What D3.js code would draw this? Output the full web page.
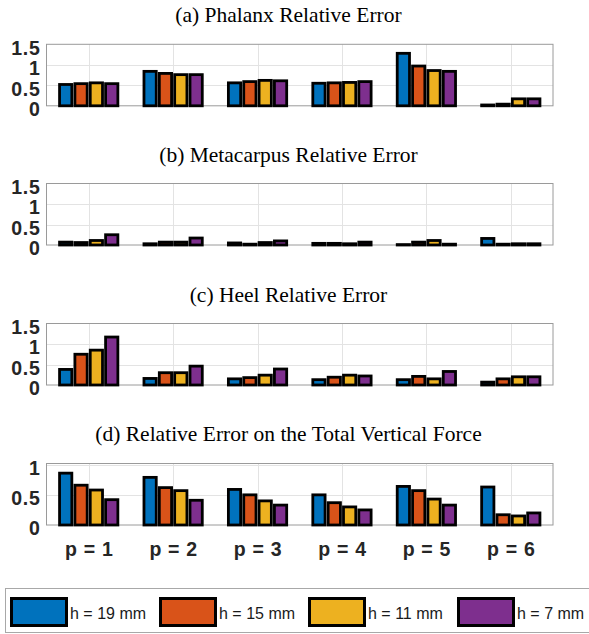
<!DOCTYPE html>
<html>
<head>
<meta charset="utf-8">
<script src="https://cdn.jsdelivr.net/npm/d3@7"></script>
<style>
  html, body { margin: 0; padding: 0; background: #fff; }
  svg { display: block; }
</style>
</head>
<body>
<svg id="chart" width="589" height="634"></svg>
<script>
// ---------------- DATA ----------------
const categories = ["p = 1", "p = 2", "p = 3", "p = 4", "p = 5", "p = 6"];
const seriesNames = ["h = 19 mm", "h = 15 mm", "h = 11 mm", "h = 7 mm"];
const seriesColors = ["#0072BD", "#D95319", "#EDB120", "#7E2F8E"];

const panelTitles = [
  "(a) Phalanx Relative Error",
  "(b) Metacarpus Relative Error",
  "(c) Heel Relative Error",
  "(d) Relative Error on the Total Vertical Force"
];

// each: [h19, h15, h11, h7] over p = 1..6
const phalanxErr = [
  [0.52, 0.84, 0.56, 0.55, 1.28, 0.02],
  [0.54, 0.79, 0.59, 0.56, 0.97, 0.04],
  [0.56, 0.76, 0.62, 0.57, 0.86, 0.17],
  [0.54, 0.76, 0.61, 0.59, 0.84, 0.17]
];
const metacarpusErr = [
  [0.07, 0.03, 0.05, 0.04, 0.01, 0.16],
  [0.06, 0.07, 0.02, 0.04, 0.07, 0.02],
  [0.11, 0.07, 0.06, 0.03, 0.11, 0.03],
  [0.25, 0.17, 0.10, 0.07, 0.02, 0.03]
];
const heelErr = [
  [0.38, 0.16, 0.15, 0.13, 0.13, 0.07],
  [0.75, 0.30, 0.18, 0.19, 0.21, 0.15],
  [0.85, 0.30, 0.24, 0.24, 0.15, 0.20],
  [1.17, 0.46, 0.39, 0.22, 0.33, 0.20]
];
const totalForceErr = [
  [0.86, 0.79, 0.59, 0.50, 0.64, 0.63],
  [0.66, 0.62, 0.50, 0.37, 0.57, 0.17],
  [0.58, 0.57, 0.40, 0.30, 0.43, 0.15],
  [0.42, 0.41, 0.33, 0.25, 0.33, 0.20]
];
const panelData = [phalanxErr, metacarpusErr, heelErr, totalForceErr];

const yTicksABC = [0, 0.5, 1, 1.5];
const yTicksD = [0, 0.5, 1];
const panelYMax = [1.5, 1.5, 1.5, 1.02];
const panelYTicks = [yTicksABC, yTicksABC, yTicksABC, yTicksD];

// ---------------- LAYOUT ----------------
const svg = d3.select("#chart");
const axLeft = 46.5, axRight = 553;
const panelTops = [44.3, 183.5, 323.5, 463.5];
const panelH = 61.5;
const titleBaselines = [21.7, 161.7, 301.7, 440.7];
const titleX = 288.5;

const x = d3.scaleLinear().domain([0.5, 6.5]).range([axLeft, axRight]);
const groupW = 0.727;             // MATLAB grouped bar width (units)
const step = groupW / 4;           // per series spacing
const barW = step * 0.8;           // bar width (units)
const px = x(1) - x(0);

const tickFont = "'Liberation Sans', Arial, Helvetica, sans-serif";

panelData.forEach((data, pi) => {
  const top = panelTops[pi], bottom = top + panelH;
  const y = d3.scaleLinear().domain([0, panelYMax[pi]]).range([bottom, top]);
  const g = svg.append("g");

  // title
  g.append("text")
    .attr("x", titleX).attr("y", titleBaselines[pi])
    .attr("text-anchor", "middle")
    .attr("font-family", "'Liberation Serif', 'Times New Roman', Times, serif")
    .attr("font-size", "21.5px")
    .attr("fill", "#000")
    .text(panelTitles[pi]);

  // background
  g.append("rect").attr("x", axLeft).attr("y", top)
    .attr("width", axRight - axLeft).attr("height", panelH)
    .attr("fill", "#fff");

  // grid
  const grid = g.append("g").attr("stroke", "#e3e3e3").attr("stroke-width", 1);
  panelYTicks[pi].forEach(t => {
    if (t === 0 || y(t) <= top + 0.5) return;
    grid.append("line").attr("x1", axLeft).attr("x2", axRight)
      .attr("y1", Math.round(y(t)) + 0.5).attr("y2", Math.round(y(t)) + 0.5);
  });
  categories.forEach((c, ci) => {
    grid.append("line")
      .attr("x1", Math.round(x(ci + 1)) + 0.5).attr("x2", Math.round(x(ci + 1)) + 0.5)
      .attr("y1", top).attr("y2", bottom);
  });

  // box
  g.append("rect").attr("x", axLeft).attr("y", top)
    .attr("width", axRight - axLeft).attr("height", panelH)
    .attr("fill", "none").attr("stroke", "#9a9a9a").attr("stroke-width", 1);

  // bars
  data.forEach((vals, si) => {
    const off = (si - 1.5) * step;
    g.append("g").selectAll("rect").data(vals).join("rect")
      .attr("x", (d, i) => x(i + 1 + off - barW / 2))
      .attr("width", barW * px)
      .attr("y", d => y(d))
      .attr("height", d => y(0) - y(d))
      .attr("fill", seriesColors[si])
      .attr("stroke", "#000")
      .attr("stroke-width", 2.8);
  });

  // y tick labels
  const yAxis = d3.axisLeft(y).tickValues(panelYTicks[pi])
    .tickFormat(d3.format("~g")).tickSize(0).tickPadding(0);
  const ya = g.append("g").attr("transform", `translate(40.5,0)`).call(yAxis);
  ya.select(".domain").remove();
  ya.selectAll("text")
    .attr("font-family", tickFont).attr("font-weight", "bold")
    .attr("font-size", "19.5px").attr("letter-spacing", "0.7px")
    .attr("fill", "#262626").attr("dy", "0.5em");

  // x tick labels on bottom panel only
  if (pi === 3) {
    const xAxis = d3.axisBottom(x).tickValues(d3.range(1, 7))
      .tickFormat(d => categories[d - 1]).tickSize(0).tickPadding(0);
    const xa = g.append("g").attr("transform", `translate(0,${bottom})`).call(xAxis);
    xa.select(".domain").remove();
    xa.selectAll("text")
      .attr("font-family", tickFont).attr("font-weight", "bold")
      .attr("font-size", "19.5px").attr("letter-spacing", "0.7px")
      .attr("fill", "#262626").attr("dy", null).attr("y", 30.5);
  }
});

// ---------------- LEGEND ----------------
const lg = svg.append("g");
lg.append("rect").attr("x", 5.5).attr("y", 588.5).attr("width", 600).attr("height", 44)
  .attr("fill", "#fff").attr("stroke", "#a8a8a8").attr("stroke-width", 1);
seriesNames.forEach((name, i) => {
  const x0 = 10 + i * 149;
  lg.append("rect").attr("x", x0 + 1.5).attr("y", 598.5).attr("width", 55).attr("height", 27)
    .attr("fill", seriesColors[i]).attr("stroke", "#000").attr("stroke-width", 3);
  lg.append("text").attr("x", x0 + 60).attr("y", 619)
    .attr("font-family", tickFont).attr("font-size", "16px").attr("fill", "#1a1a1a")
    .text(name);
});
</script>
</body>
</html>
